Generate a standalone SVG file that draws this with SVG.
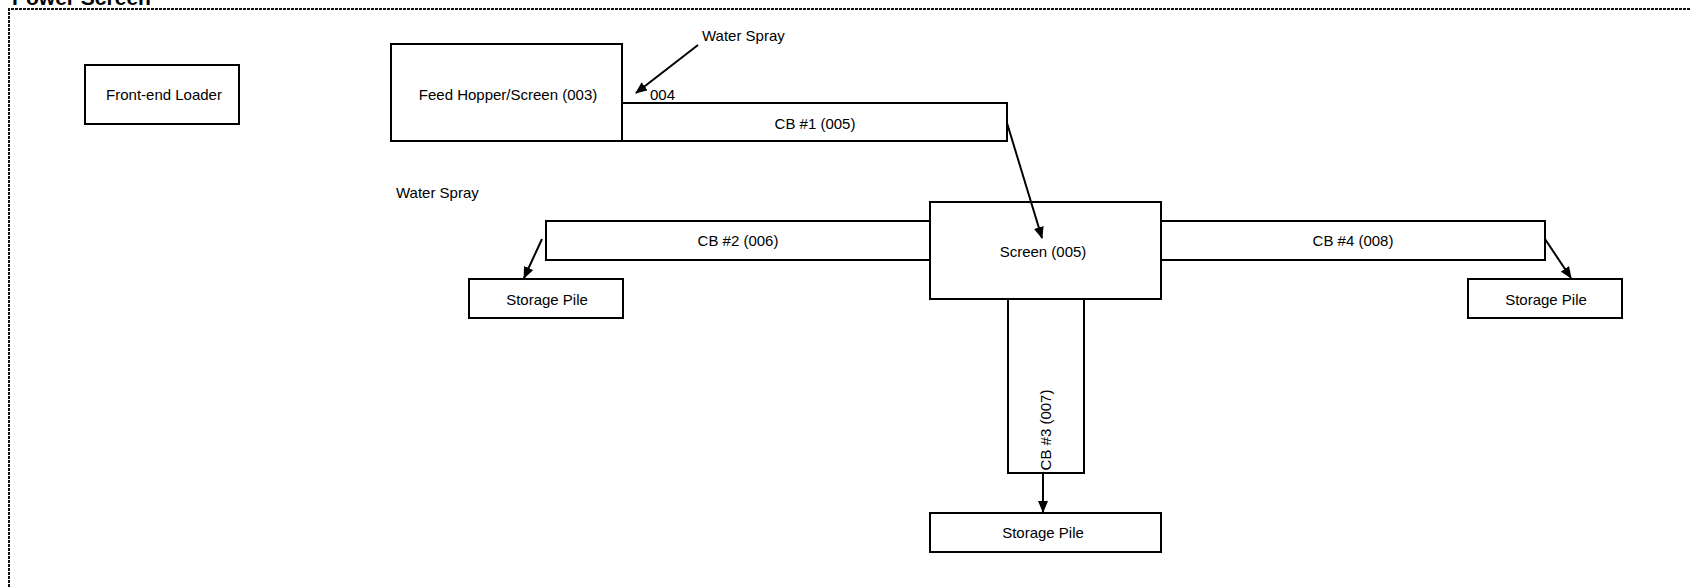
<svg xmlns="http://www.w3.org/2000/svg" width="1690" height="587" viewBox="0 0 1690 587">
<style>
.box{fill:#fff;stroke:#000;stroke-width:2}
.lbl{font-family:"Liberation Sans",Arial,sans-serif;font-size:15px;fill:#000;text-anchor:middle;dominant-baseline:central}
.free{font-family:"Liberation Sans",Arial,sans-serif;font-size:15px;fill:#000}
.conn{stroke:#000;stroke-width:2;fill:none}
.frame{stroke:#111;stroke-width:2;fill:none;stroke-dasharray:3 1}
</style>
<defs>
<marker id="ah" markerWidth="12" markerHeight="10" refX="11" refY="5" orient="auto" markerUnits="userSpaceOnUse">
<path d="M0,0 L12,5 L0,10 Z" fill="#000"/>
</marker>
</defs>
<rect width="1690" height="587" fill="#fff"/>
<text x="12" y="5" style="font-family:'Liberation Sans',Arial,sans-serif;font-size:21px;font-weight:bold">Power Screen</text>
<path class="frame" d="M9,587 L9,9 L1690,9"/>

<g id="front-end-loader"><rect class="box" x="85" y="65" width="154" height="59"/><text class="lbl" x="164" y="94">Front-end Loader</text></g>
<g id="feed-hopper"><rect class="box" x="391" y="44" width="231" height="97"/><text class="lbl" x="508" y="94">Feed Hopper/Screen (003)</text></g>
<g id="cb1"><rect class="box" x="622" y="103" width="385" height="38"/><text class="lbl" x="815" y="123">CB #1 (005)</text></g>
<g id="label-004"><text class="free" x="650" y="100">004</text></g>
<g id="water-spray-1"><text class="free" x="702" y="41">Water Spray</text></g>
<g id="water-spray-2"><text class="free" x="396" y="198">Water Spray</text></g>
<g id="cb2"><rect class="box" x="546" y="221" width="384" height="39"/><text class="lbl" x="738" y="240">CB #2 (006)</text></g>
<g id="cb4"><rect class="box" x="1161" y="221" width="384" height="39"/><text class="lbl" x="1353" y="240">CB #4 (008)</text></g>
<g id="cb3"><rect class="box" x="1008" y="299" width="76" height="174"/><text class="lbl" transform="translate(1045,430) rotate(-90)" x="0" y="0">CB #3 (007)</text></g>
<g id="screen"><rect class="box" x="930" y="202" width="231" height="97"/><text class="lbl" x="1043" y="251">Screen (005)</text></g>
<g id="storage-left"><rect class="box" x="469" y="279" width="154" height="39"/><text class="lbl" x="547" y="299">Storage Pile</text></g>
<g id="storage-right"><rect class="box" x="1468" y="279" width="154" height="39"/><text class="lbl" x="1546" y="299">Storage Pile</text></g>
<g id="storage-bottom"><rect class="box" x="930" y="513" width="231" height="39"/><text class="lbl" x="1043" y="532">Storage Pile</text></g>

<g id="connectors">
<line class="conn" x1="698" y1="45" x2="636" y2="93" marker-end="url(#ah)"/>
<line class="conn" x1="1007" y1="123" x2="1042" y2="238" marker-end="url(#ah)"/>
<line class="conn" x1="542" y1="239" x2="524" y2="278" marker-end="url(#ah)"/>
<line class="conn" x1="1545" y1="239" x2="1571" y2="278" marker-end="url(#ah)"/>
<line class="conn" x1="1043" y1="473" x2="1043" y2="512" marker-end="url(#ah)"/>
</g>
</svg>
